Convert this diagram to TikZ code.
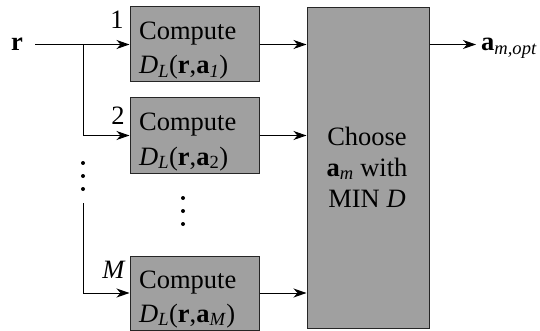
\documentclass[tikz,border=0pt]{standalone}
\usepackage{fontspec}
\setmainfont{Liberation Serif}
\usetikzlibrary{arrows.meta}
\definecolor{boxgray}{RGB}{160,160,160}
\begin{document}
\begin{tikzpicture}[x=1pt,y=-1pt,
  blk/.style={draw=black!85, line width=1pt, fill=boxgray, inner sep=0pt},
  conn/.style={line width=1pt, -{Stealth[length=13pt,width=9pt,inset=4pt]}},
  txt/.style={inner sep=0pt, font=\fontsize{26.5}{30}\selectfont},
  dotc/.style={fill=black, circle, inner sep=0pt, minimum size=4pt}]
\useasboundingbox (0,0) rectangle (540,331);
% boxes
\node[blk, minimum width=129pt, minimum height=75pt] (b1) at (194.5,44.5) {};
\node[blk, minimum width=129pt, minimum height=75pt] (b2) at (194.5,135.5) {};
\node[blk, minimum width=129pt, minimum height=74pt] (bM) at (194.5,293) {};
\node[blk, minimum width=122pt, minimum height=320pt] (big) at (368,168) {};
% box texts
\node[txt, anchor=base west] (c1a) at (139,40) {Compute};
\node[txt, anchor=base west] (c1b) at (139,74) {\textit{D}\textsubscript{\textit{L}}(\textbf{r},\textbf{a}\textsubscript{\textit{1}})};
\node[txt, anchor=base west] (c2a) at (139,131) {Compute};
\node[txt, anchor=base west] (c2b) at (139,165) {\textit{D}\textsubscript{\textit{L}}(\textbf{r},\textbf{a}\textsubscript{2})};
\node[txt, anchor=base west] (cMa) at (139,288) {Compute};
\node[txt, anchor=base west] (cMb) at (139,322) {\textit{D}\textsubscript{\textit{L}}(\textbf{r},\textbf{a}\textsubscript{\textit{M}})};
\node[txt, anchor=base] (ch1) at (367,146) {Choose};
\node[txt, anchor=base] (ch2) at (367,176) {\textbf{a}\textsubscript{\textit{m}} with};
\node[txt, anchor=base] (ch3) at (367,207) {MIN \textit{D}};
% input
\node[txt, anchor=base] (r) at (17,51) {\textbf{r}};
\coordinate (rs) at (35,44.5);
\coordinate (br) at (83,44.5);
\coordinate (brM) at (83,203);
\draw[conn] (rs) -- (b1.west);
\draw[conn] (br) |- (b2.west);
\draw[conn] (brM) |- (bM.west);
% branch labels
\node[txt, anchor=base] (n1) at (117,29) {1};
\node[txt, anchor=base] (n2) at (118,125) {2};
\node[txt, anchor=base] (nM) at (114,278) {\textit{M}};
% to chooser
\draw[conn] (b1.east) -- (b1.east -| big.west);
\draw[conn] (b2.east) -- (b2.east -| big.west);
\draw[conn] (bM.east) -- (bM.east -| big.west);
% output
\coordinate (out) at (476,44.5);
\draw[conn] (big.east |- b1.east) -- (out);
\node[txt, anchor=base west] (aopt) at (481,51) {\textbf{a}\textsubscript{\textit{m,opt}}};
% dots
\node[dotc] (d1) at (83,163) {};
\node[dotc] (d2) at (83,176) {};
\node[dotc] (d3) at (83,189) {};
\node[dotc] (d4) at (183,198) {};
\node[dotc] (d5) at (183,211) {};
\node[dotc] (d6) at (183,224) {};
\end{tikzpicture}
\end{document}
